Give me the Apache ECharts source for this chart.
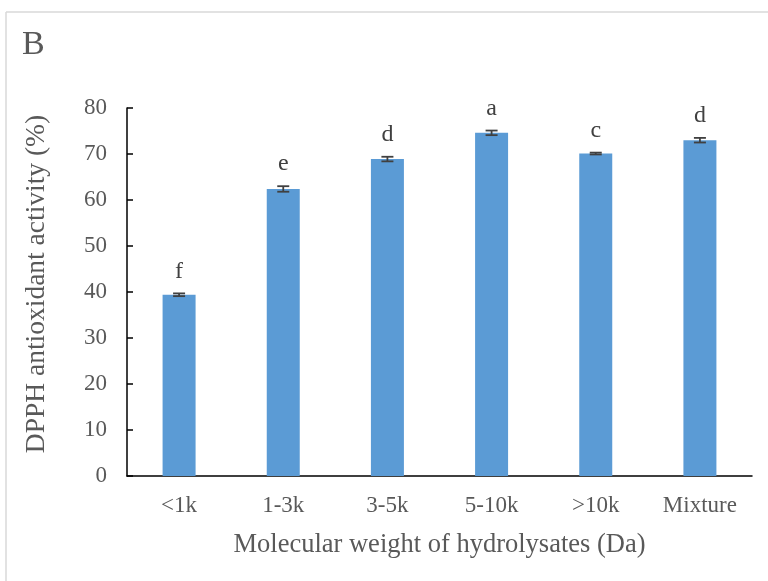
<!DOCTYPE html>
<html>
<head>
<meta charset="utf-8">
<script src="https://cdn.jsdelivr.net/npm/echarts@6/dist/echarts.min.js"></script>
<style>
  html, body { margin: 0; padding: 0; background: #ffffff; }
  #chart { width: 768px; height: 581px; }
</style>
</head>
<body>
<div id="chart"></div>
<script>
// Molecular weight fractions of the hydrolysates
const categories = ['<1k', '1-3k', '3-5k', '5-10k', '>10k', 'Mixture'];
// DPPH radical scavenging activity (%)
const activity = [39.4, 62.4, 68.9, 74.6, 70.1, 73.0];
// Standard deviations
const stdDev = [0.3, 0.6, 0.5, 0.5, 0.2, 0.5];
// Significance letters
const groups = ['f', 'e', 'd', 'a', 'c', 'd'];
const yTicks = { min: 0, max: 80, interval: 10 };

const FONT = '"Liberation Serif", "Times New Roman", serif';
const TEXT = '#595959';

const chart = echarts.init(document.getElementById('chart'), null, { renderer: 'canvas' });

const errorData = categories.map((c, i) => [i, activity[i], stdDev[i], groups[i]]);

chart.setOption({
  animation: false,
  backgroundColor: '#ffffff',
  grid: { left: 127, right: 16, top: 108, bottom: 105 },
  graphic: [
    { type: 'line', shape: { x1: 6, y1: 12, x2: 768, y2: 12 }, style: { stroke: '#d9d9d9', lineWidth: 1.5 } },
    { type: 'line', shape: { x1: 6, y1: 12, x2: 6, y2: 581 }, style: { stroke: '#d9d9d9', lineWidth: 1.5 } },
    { type: 'text', left: 22, top: 28, style: { text: 'B', font: '34px ' + FONT, fill: TEXT } }
  ],
  xAxis: {
    type: 'category',
    data: categories,
    axisLine: { lineStyle: { color: '#000000', width: 1.5 } },
    axisTick: { show: false },
    axisLabel: { color: TEXT, fontFamily: FONT, fontSize: 23, margin: 18 },
    name: 'Molecular weight of hydrolysates (Da)',
    nameLocation: 'middle',
    nameGap: 56,
    nameTextStyle: { color: TEXT, fontFamily: FONT, fontSize: 26.5 }
  },
  yAxis: {
    type: 'value',
    min: yTicks.min,
    max: yTicks.max,
    interval: yTicks.interval,
    axisLine: { show: true, lineStyle: { color: '#000000', width: 1.5 } },
    axisTick: { show: true, inside: true, length: 6, lineStyle: { color: '#000000', width: 1.5 } },
    splitLine: { show: false },
    axisLabel: { color: TEXT, fontFamily: FONT, fontSize: 23, margin: 20 },
    name: 'DPPH antioxidant activity (%)',
    nameLocation: 'middle',
    nameGap: 76,
    nameTextStyle: { color: TEXT, fontFamily: FONT, fontSize: 27.5, padding: [0, 0, 0, 16] }
  },
  series: [
    {
      type: 'bar',
      data: activity,
      barWidth: 33,
      itemStyle: { color: '#5b9bd5' }
    },
    {
      type: 'custom',
      data: errorData,
      z: 10,
      renderItem: function (params, api) {
        const idx = api.value(0);
        const v = api.value(1);
        const e = api.value(2);
        const top = api.coord([idx, v + e]);
        const bot = api.coord([idx, v - e]);
        const half = 6;
        const stroke = { stroke: '#404040', lineWidth: 1.8 };
        return {
          type: 'group',
          children: [
            { type: 'line', shape: { x1: top[0], y1: top[1], x2: bot[0], y2: bot[1] }, style: stroke },
            { type: 'line', shape: { x1: top[0] - half, y1: top[1], x2: top[0] + half, y2: top[1] }, style: stroke },
            { type: 'line', shape: { x1: bot[0] - half, y1: bot[1], x2: bot[0] + half, y2: bot[1] }, style: stroke },
            {
              type: 'text',
              style: {
                text: groups[params.dataIndex],
                x: top[0],
                y: top[1] - 10,
                textAlign: 'center',
                textVerticalAlign: 'bottom',
                font: '24px ' + FONT,
                fill: '#404040'
              }
            }
          ]
        };
      }
    }
  ]
});
</script>
</body>
</html>
